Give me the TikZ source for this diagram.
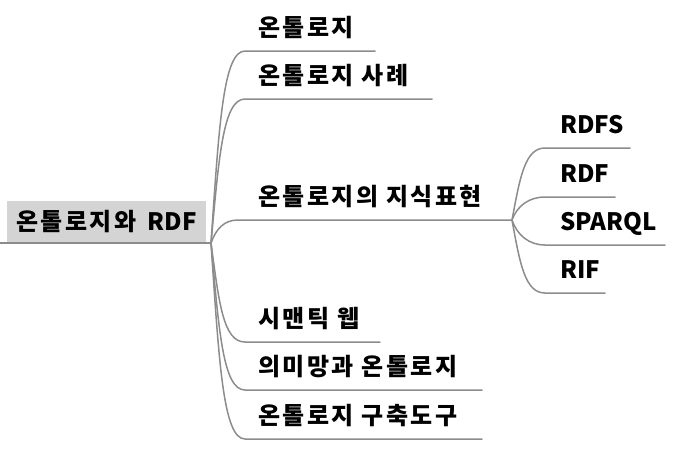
\documentclass[tikz,border=0pt]{standalone}
\usepackage{fontspec}
\setmainfont{Noto Sans CJK KR}
\newfontfamily\hangul{Noto Sans CJK KR}[LetterSpace=10]
\usepackage{xcolor}
\usepackage{tikz}
\definecolor{ligne}{RGB}{140,140,140}
\definecolor{racine}{RGB}{212,212,212}

\begin{document}
\begin{tikzpicture}[x=1pt,y=-1pt]
        \useasboundingbox (0,0) rectangle (696,450);
        \tikzset{branche/.style={draw=ligne,line width=1.5pt,line cap=round}}
        \tikzset{titre/.style={anchor=base west,inner sep=0pt,font=\fontsize{24}{28}\selectfont\bfseries}}
        \node[fill=racine,minimum width=199pt,minimum height=42pt,inner sep=0pt,font=\fontsize{24}{28}\selectfont\bfseries] (OR) at (106.5,222) {{\hangul 온톨로지와}\hspace{6pt} RDF};
        \coordinate (RG) at (0,243);
        \coordinate (RJ) at (211,243);
        \draw[branche] (RG) -- (RJ);
        % premier niveau
        \coordinate (O1) at (245,51);   \coordinate (O2) at (375,51);
        \coordinate (S1) at (245,99);   \coordinate (S2) at (432,99);
        \coordinate (K1) at (238,220);  \coordinate (SJ) at (512,220);
        \coordinate (W1) at (245,342);  \coordinate (W2) at (380,342);
        \coordinate (M1) at (245,390);  \coordinate (M2) at (482,390);
        \coordinate (B1) at (245,439);  \coordinate (B2) at (482,439);
        \node[titre] (O) at (258,36) {\hangul 온톨로지};
        \node[titre] (S) at (258,84) {\hangul 온톨로지 사례};
        \node[titre] (K) at (258,205) {\hangul 온톨로지의 지식표현};
        \node[titre] (W) at (258,327) {\hangul 시맨틱 웹};
        \node[titre] (M) at (258,375) {\hangul 의미망과 온톨로지};
        \node[titre] (B) at (258,424) {\hangul 온톨로지 구축도구};
        \draw[branche] (RJ) .. controls +(8,-116) and +(-22,0) .. (O1) -- (O2);
        \draw[branche] (RJ) .. controls +(8,-86) and +(-22,0) .. (S1) -- (S2);
        \draw[branche] (RJ) .. controls +(5,-14) and +(-14,0) .. (K1) -- (SJ);
        \draw[branche] (RJ) .. controls +(8,59) and +(-22,0) .. (W1) -- (W2);
        \draw[branche] (RJ) .. controls +(8,88) and +(-22,0) .. (M1) -- (M2);
        \draw[branche] (RJ) .. controls +(8,118) and +(-22,0) .. (B1) -- (B2);
        % second niveau
        \coordinate (RS1) at (545,148); \coordinate (RS2) at (630,148);
        \coordinate (R1) at (545,197);  \coordinate (R2) at (615,197);
        \coordinate (SP1) at (545,245); \coordinate (SP2) at (665,245);
        \coordinate (RI1) at (545,293); \coordinate (RI2) at (605,293);
        \node[titre] (RS) at (560,133) {RDFS};
        \node[titre] (R) at (560,182) {RDF};
        \node[titre] (SP) at (560,230) {SPARQL};
        \node[titre] (RI) at (560,278) {RIF};
        \draw[branche] (SJ) .. controls +(8,-43) and +(-20,0) .. (RS1) -- (RS2);
        \draw[branche] (SJ) .. controls +(5,-14) and +(-16,0) .. (R1) -- (R2);
        \draw[branche] (SJ) .. controls +(5,15) and +(-16,0) .. (SP1) -- (SP2);
        \draw[branche] (SJ) .. controls +(8,44) and +(-20,0) .. (RI1) -- (RI2);
        \end{tikzpicture}
\end{document}
